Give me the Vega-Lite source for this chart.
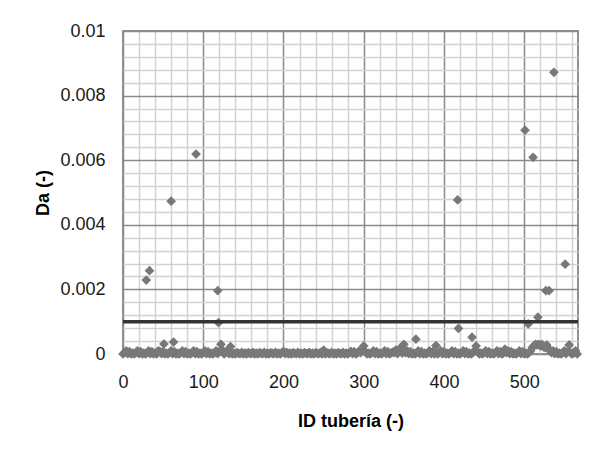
{
  "$schema": "https://vega.github.io/schema/vega-lite/v6.json",
  "width": 455,
  "height": 323,
  "autosize": {"type": "none"},
  "padding": {"left": 123, "top": 31, "right": 31, "bottom": 100},
  "background": "white",
  "config": {
    "view": {"stroke": "#6e6e6e", "strokeWidth": 1.5},
    "font": "Liberation Sans"
  },
  "data": {"values": [
    {"id":0,"da":0},{"id":2,"da":0.00004},{"id":4,"da":0.0001},{"id":6,"da":0.00001},{"id":8,"da":0.00007},{"id":10,"da":0},{"id":12,"da":0.00003},{"id":14,"da":0},{"id":16,"da":0.00004},{"id":18,"da":0.0001},
    {"id":20,"da":0.00001},{"id":22,"da":0.00007},{"id":24,"da":0},{"id":26,"da":0.00003},{"id":28,"da":0},{"id":30,"da":0.00004},{"id":32,"da":0.0001},{"id":34,"da":0.00001},{"id":36,"da":0.00007},{"id":38,"da":0},
    {"id":40,"da":0.00003},{"id":42,"da":0},{"id":44,"da":0.0001},{"id":46,"da":0.00008},{"id":48,"da":0.00001},{"id":50,"da":0.00007},{"id":52,"da":0},{"id":54,"da":0.00003},{"id":56,"da":0},{"id":58,"da":0.00004},
    {"id":60,"da":0.0001},{"id":62,"da":0.00001},{"id":64,"da":0.00007},{"id":66,"da":0},{"id":68,"da":0.00003},{"id":70,"da":0},{"id":72,"da":0.00004},{"id":74,"da":0.0001},{"id":76,"da":0.00001},{"id":78,"da":0.00007},
    {"id":80,"da":0},{"id":82,"da":0.00003},{"id":84,"da":0},{"id":86,"da":0.00004},{"id":88,"da":0.0001},{"id":90,"da":0.00001},{"id":92,"da":0.00007},{"id":94,"da":0},{"id":96,"da":0.00003},{"id":98,"da":0},
    {"id":100,"da":0.00004},{"id":102,"da":0.0001},{"id":104,"da":0.00001},{"id":106,"da":0.00007},{"id":108,"da":0},{"id":110,"da":0.00003},{"id":112,"da":0},{"id":114,"da":0.00004},{"id":116,"da":0.0001},{"id":118,"da":0.00001},
    {"id":120,"da":0.00007},{"id":122,"da":0.0003},{"id":124,"da":0.00012},{"id":126,"da":0},{"id":128,"da":0.00004},{"id":130,"da":0.0001},{"id":132,"da":0.00001},{"id":134,"da":0.00023},{"id":136,"da":0},{"id":138,"da":0.00003},
    {"id":140,"da":0},{"id":142,"da":0.00004},{"id":144,"da":0.00002},{"id":146,"da":0.00001},{"id":148,"da":0.00005},{"id":150,"da":0},{"id":152,"da":0.00003},{"id":154,"da":0},{"id":156,"da":0.00004},{"id":158,"da":0.00002},
    {"id":160,"da":0.00001},{"id":162,"da":0.00005},{"id":164,"da":0},{"id":166,"da":0.00003},{"id":168,"da":0},{"id":170,"da":0.00004},{"id":172,"da":0.00002},{"id":174,"da":0.00001},{"id":176,"da":0.00005},{"id":178,"da":0},
    {"id":180,"da":0.00003},{"id":182,"da":0},{"id":184,"da":0.00004},{"id":186,"da":0.00002},{"id":188,"da":0.00001},{"id":190,"da":0.00005},{"id":192,"da":0},{"id":194,"da":0.00003},{"id":196,"da":0},{"id":198,"da":0.00004},
    {"id":200,"da":0.00008},{"id":202,"da":0.00001},{"id":204,"da":0.00005},{"id":206,"da":0},{"id":208,"da":0.00003},{"id":210,"da":0},{"id":212,"da":0.00004},{"id":214,"da":0.00002},{"id":216,"da":0.00001},{"id":218,"da":0.00005},
    {"id":220,"da":0},{"id":222,"da":0.00003},{"id":224,"da":0},{"id":226,"da":0.00004},{"id":228,"da":0.00002},{"id":230,"da":0.00001},{"id":232,"da":0.00005},{"id":234,"da":0},{"id":236,"da":0.00003},{"id":238,"da":0},
    {"id":240,"da":0.00004},{"id":242,"da":0.00002},{"id":244,"da":0.00001},{"id":246,"da":0.00005},{"id":248,"da":0},{"id":250,"da":0.00012},{"id":252,"da":0},{"id":254,"da":0.00004},{"id":256,"da":0.00002},{"id":258,"da":0.00001},
    {"id":260,"da":0.00005},{"id":262,"da":0},{"id":264,"da":0.00003},{"id":266,"da":0},{"id":268,"da":0.00004},{"id":270,"da":0.00002},{"id":272,"da":0.00001},{"id":274,"da":0.00005},{"id":276,"da":0},{"id":278,"da":0.00003},
    {"id":280,"da":0},{"id":282,"da":0.00004},{"id":284,"da":0.00008},{"id":286,"da":0.00001},{"id":288,"da":0.00007},{"id":290,"da":0},{"id":292,"da":0.00003},{"id":294,"da":0.00009},{"id":296,"da":0.00004},{"id":298,"da":0.0001},
    {"id":300,"da":0.00025},{"id":302,"da":0.00007},{"id":304,"da":0},{"id":306,"da":0.00003},{"id":308,"da":0},{"id":310,"da":0.00004},{"id":312,"da":0.0001},{"id":314,"da":0.00001},{"id":316,"da":0.00007},{"id":318,"da":0},
    {"id":320,"da":0.00003},{"id":322,"da":0},{"id":324,"da":0.00004},{"id":326,"da":0.0001},{"id":328,"da":0.00001},{"id":330,"da":0.00007},{"id":332,"da":0},{"id":334,"da":0.00003},{"id":336,"da":0.00006},{"id":338,"da":0.00004},
    {"id":340,"da":0.00012},{"id":342,"da":0.00001},{"id":344,"da":0.00007},{"id":346,"da":0.0002},{"id":348,"da":0.00003},{"id":350,"da":0.0003},{"id":352,"da":0.00004},{"id":354,"da":0.0001},{"id":356,"da":0.00001},{"id":358,"da":0.00007},
    {"id":360,"da":0},{"id":362,"da":0.00003},{"id":364,"da":0},{"id":366,"da":0.00004},{"id":368,"da":0.0001},{"id":370,"da":0.00001},{"id":372,"da":0.00007},{"id":374,"da":0},{"id":376,"da":0.00003},{"id":378,"da":0},
    {"id":380,"da":0.00004},{"id":382,"da":0.0001},{"id":384,"da":0.00001},{"id":386,"da":0.00007},{"id":388,"da":0},{"id":390,"da":0.00026},{"id":392,"da":0},{"id":394,"da":0.00004},{"id":396,"da":0.0001},{"id":398,"da":0.00001},
    {"id":400,"da":0.00007},{"id":402,"da":0},{"id":404,"da":0.00003},{"id":406,"da":0},{"id":408,"da":0.00004},{"id":410,"da":0.0001},{"id":412,"da":0.00001},{"id":414,"da":0.00007},{"id":416,"da":0},{"id":418,"da":0.00003},
    {"id":420,"da":0},{"id":422,"da":0.00004},{"id":424,"da":0.0001},{"id":426,"da":0.00001},{"id":428,"da":0.00007},{"id":430,"da":0},{"id":432,"da":0.00003},{"id":434,"da":0},{"id":436,"da":0.00004},{"id":438,"da":0.0001},
    {"id":440,"da":0.00025},{"id":442,"da":0.00007},{"id":444,"da":0},{"id":446,"da":0.00003},{"id":448,"da":0},{"id":450,"da":0.00004},{"id":452,"da":0.0001},{"id":454,"da":0.00001},{"id":456,"da":0.00007},{"id":458,"da":0},
    {"id":460,"da":0.00003},{"id":462,"da":0},{"id":464,"da":0.00004},{"id":466,"da":0.0001},{"id":468,"da":0.00001},{"id":470,"da":0.00007},{"id":472,"da":0},{"id":474,"da":0.00003},{"id":476,"da":0.00015},{"id":478,"da":0.00004},
    {"id":480,"da":0.0001},{"id":482,"da":0.00001},{"id":484,"da":0.00007},{"id":486,"da":0},{"id":488,"da":0.00003},{"id":490,"da":0},{"id":492,"da":0.00004},{"id":494,"da":0.0001},{"id":496,"da":0.00001},{"id":498,"da":0.00007},
    {"id":500,"da":0},{"id":502,"da":0.00003},{"id":504,"da":0},{"id":506,"da":0.00004},{"id":508,"da":0.0001},{"id":510,"da":0.0002},{"id":512,"da":0.00025},{"id":514,"da":0.0003},{"id":516,"da":0.00028},{"id":518,"da":0.0003},
    {"id":520,"da":0.00025},{"id":522,"da":0.0003},{"id":524,"da":0.00022},{"id":526,"da":0.0002},{"id":528,"da":0.00028},{"id":530,"da":0.00018},{"id":532,"da":0.0001},{"id":534,"da":0.00004},{"id":536,"da":0.0001},{"id":538,"da":0.00001},
    {"id":540,"da":0.00007},{"id":542,"da":0},{"id":544,"da":0.00003},{"id":546,"da":0},{"id":548,"da":0.00004},{"id":550,"da":0.0001},{"id":552,"da":0.00001},{"id":554,"da":0.00007},{"id":556,"da":0.00028},{"id":558,"da":0.00003},
    {"id":560,"da":0},{"id":562,"da":0.00004},{"id":564,"da":0.0001},{"id":566,"da":0},
    {"id":29,"da":0.00229},{"id":33,"da":0.00258},{"id":51,"da":0.00031},{"id":60,"da":0.00473},{"id":63,"da":0.00037},{"id":91,"da":0.00619},{"id":118,"da":0.00196},{"id":119,"da":0.00097},{"id":365,"da":0.00046},{"id":417,"da":0.00477},
    {"id":418,"da":0.00079},{"id":435,"da":0.00052},{"id":501,"da":0.00693},{"id":505,"da":0.00093},{"id":511,"da":0.00609},{"id":517,"da":0.00114},{"id":527,"da":0.00196},{"id":531,"da":0.00196},{"id":537,"da":0.00872},{"id":551,"da":0.00278}
  ]},
  "layer": [
    {
      "mark": {"type": "point", "shape": "diamond", "filled": true, "size": 1, "opacity": 0},
      "encoding": {
        "x": {
          "field": "id", "type": "quantitative",
          "scale": {"domain": [0, 567], "nice": false, "zero": false},
          "axis": {
            "orient": "bottom",
            "title": null,
            "values": [20,40,60,80,120,140,160,180,220,240,260,280,320,340,360,380,420,440,460,480,520,540,560],
            "labels": false,
            "grid": true,
            "gridColor": "#d2d2d2",
            "gridWidth": 1.5,
            "ticks": false,
            "domain": false
          }
        },
        "y": {
          "field": "da", "type": "quantitative",
          "scale": {"domain": [0, 0.01], "nice": false, "zero": true},
          "axis": {
            "orient": "left",
            "title": null,
            "values": [0.0004,0.0008,0.0012,0.0016,0.0024,0.0028,0.0032,0.0036,0.0044,0.0048,0.0052,0.0056,0.0064,0.0068,0.0072,0.0076,0.0084,0.0088,0.0092,0.0096],
            "labels": false,
            "grid": true,
            "gridColor": "#d2d2d2",
            "gridWidth": 1.5,
            "ticks": false,
            "domain": false
          }
        }
      }
    },
    {
      "mark": {"type": "point", "shape": "diamond", "filled": true, "size": 95, "color": "#787878", "opacity": 1},
      "encoding": {
        "x": {
          "field": "id", "type": "quantitative",
          "axis": {
            "orient": "bottom",
            "title": "ID tubería (-)",
            "values": [0,100,200,300,400,500],
            "format": "d",
            "grid": true,
            "gridColor": "#8a8a8a",
            "gridWidth": 1.5,
            "ticks": false,
            "domain": false,
            "labelFontSize": 18,
            "labelColor": "#1a1a1a",
            "labelPadding": 19,
            "labelFlush": false,
            "titleFontSize": 18,
            "titleFontWeight": "bold",
            "titleColor": "#000000",
            "titlePadding": 21
          }
        },
        "y": {
          "field": "da", "type": "quantitative",
          "axis": {
            "orient": "left",
            "title": "Da (-)",
            "values": [0,0.002,0.004,0.006,0.008,0.01],
            "format": "~g",
            "grid": true,
            "gridColor": "#8a8a8a",
            "gridWidth": 1.5,
            "ticks": false,
            "domain": false,
            "labelFontSize": 18,
            "labelColor": "#1a1a1a",
            "labelPadding": 18,
            "labelFlush": false,
            "labelOverlap": false,
            "titleFontSize": 18,
            "titleFontWeight": "bold",
            "titleColor": "#000000",
            "titlePadding": 7
          }
        }
      }
    },
    {
      "data": {"values": [{"limit": 0.001}]},
      "mark": {"type": "rule", "color": "#333333", "strokeWidth": 3.5},
      "encoding": {"y": {"field": "limit", "type": "quantitative", "axis": null}}
    }
  ],
  "resolve": {"axis": {"x": "independent", "y": "independent"}}
}
